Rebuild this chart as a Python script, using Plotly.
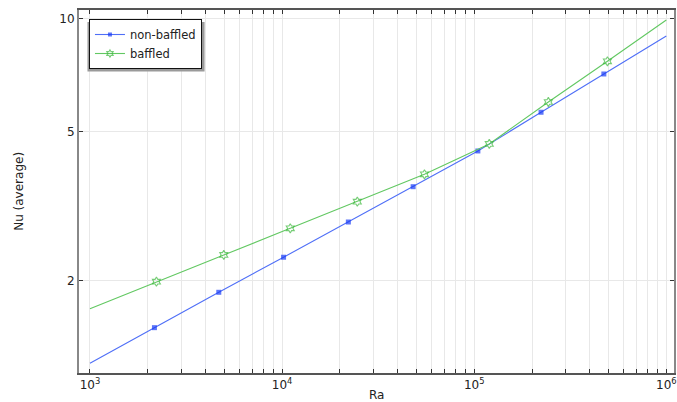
import plotly.graph_objects as go

# Average Nusselt number versus Rayleigh number
ra_nonbaffled = [1000, 2166, 4684, 10180, 22130, 48100, 104500, 222800, 473000, 1000000]
nu_nonbaffled = [1.204, 1.499, 1.863, 2.311, 2.870, 3.566, 4.442, 5.636, 7.131, 9.01]

ra_baffled = [1000, 2218, 4973, 11030, 24640, 55100, 119800, 243200, 493700, 1000000]
nu_baffled = [1.684, 1.989, 2.344, 2.761, 3.252, 3.848, 4.638, 6.003, 7.709, 9.94]

x_decades = [1e3, 1e4, 1e5, 1e6]
x_decade_labels = ["10<sup>3</sup>", "10<sup>4</sup>", "10<sup>5</sup>", "10<sup>6</sup>"]
y_ticks = [2, 5, 10]

# log-axis tick positions: every integer multiple within each decade
x_tickvals, x_ticktext = [], []
for d, lab in zip(x_decades, x_decade_labels):
    for m in range(1, 10):
        v = d * m
        if v > 1.1e6:
            break
        x_tickvals.append(v)
        x_ticktext.append(lab if m == 1 else "")


def marker_sizes(n, size):
    # no markers on the curve end points
    return [0] + [size] * (n - 2) + [0]


fig = go.Figure()
fig.add_trace(go.Scatter(
    x=ra_nonbaffled, y=nu_nonbaffled, name="non-baffled", mode="lines+markers",
    line=dict(color="#4f6ff7", width=1.1),
    marker=dict(symbol="square", color="#1a3cf5",
                size=marker_sizes(len(ra_nonbaffled), 5), line=dict(width=0)),
))
fig.add_trace(go.Scatter(
    x=ra_baffled, y=nu_baffled, name="baffled", mode="lines+markers",
    line=dict(color="#62c862", width=1.1),
    marker=dict(symbol="hexagram-open", color="#3cb83c",
                size=marker_sizes(len(ra_baffled), 7), line=dict(width=1.1)),
))

font = dict(family="DejaVu Sans", size=12, color="#222222")

# plot-area pixel geometry, used to place the legend and its shadow
L, T, W, H = 79, 10, 597, 363


def px(x):
    return (x - L) / W


def py(y):
    return 1 - (y - T) / H


fig.update_layout(
    width=677, height=402,
    margin=dict(l=L, r=677 - L - W, t=T, b=402 - T - H),
    paper_bgcolor="white", plot_bgcolor="white",
    font=font,
    showlegend=True,
    legend=dict(
        x=px(89), y=py(19), xanchor="left", yanchor="top",
        bgcolor="white", bordercolor="#111111", borderwidth=1,
        font=dict(family="DejaVu Sans", size=11.5, color="#222222"),
        itemwidth=30, tracegroupgap=0,
    ),
    shapes=[
        # drop shadow behind the legend box
        dict(type="rect", xref="paper", yref="paper", layer="above",
             x0=px(87.5), x1=px(205), y0=py(71.5), y1=py(22),
             fillcolor="#9a9a9a", line=dict(width=0)),
    ],
    xaxis=dict(
        type="log", range=[2.943, 6.040],
        tickmode="array", tickvals=x_tickvals, ticktext=x_ticktext,
        ticks="inside", ticklen=4, tickcolor="#333333", tickwidth=1,
        showgrid=True, gridcolor="#e8e8e8", gridwidth=1,
        showline=True, linecolor="#555555", linewidth=1.5, mirror="ticks",
        zeroline=False, tickfont=font,
    ),
    yaxis=dict(
        type="log", range=[0.0547, 1.024],
        tickmode="array", tickvals=y_ticks, ticktext=[str(v) for v in y_ticks],
        ticks="inside", ticklen=4, tickcolor="#333333", tickwidth=1,
        showgrid=True, gridcolor="#e8e8e8", gridwidth=1,
        showline=True, linecolor="#888888", linewidth=2, mirror="ticks",
        zeroline=False, tickfont=font,
    ),
    annotations=[
        dict(text="Ra", x=0.5, y=-0.0606, xref="paper", yref="paper",
             xanchor="center", yanchor="middle", showarrow=False, font=font),
        dict(text="Nu (average)", x=-0.102, y=0.5, xref="paper", yref="paper",
             xanchor="center", yanchor="middle", textangle=-90, showarrow=False,
             font=font),
    ],
)

fig.write_html("out.html")
